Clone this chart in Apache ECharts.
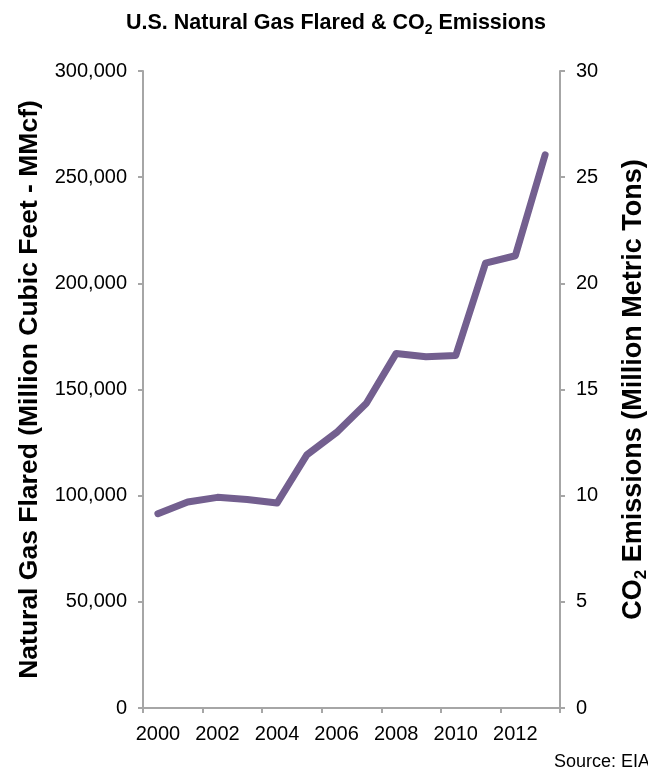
<!DOCTYPE html>
<html>
<head>
<meta charset="utf-8">
<title>U.S. Natural Gas Flared &amp; CO2 Emissions</title>
<script src="https://cdn.jsdelivr.net/npm/echarts@6/dist/echarts.min.js"></script>
<style>
  html, body { margin: 0; padding: 0; background: #ffffff; overflow: hidden; }
  #chart { width: 648px; height: 771px; }
</style>
</head>
<body>
<div id="chart"></div>
<script>
// Annual volumes of natural gas vented and flared in the U.S. (MMcf)
const years = ['2000', '2001', '2002', '2003', '2004', '2005', '2006',
               '2007', '2008', '2009', '2010', '2011', '2012', '2013'];
const gasFlared = [91500, 97000, 99200, 98200, 96500, 119200, 129800,
                   143500, 167000, 165400, 166000, 209500, 213000, 260500];

// Axis scales
const leftAxisMax = 300000;
const leftAxisStep = 50000;
const rightAxisMax = 30;
const rightAxisStep = 5;

const FONT = '"Liberation Sans", Arial, Helvetica, sans-serif';
const AXIS_GRAY = '#a6a6a6';
const LINE_PURPLE = '#735f8f';

const chart = echarts.init(document.getElementById('chart'), null, { renderer: 'canvas' });

const axisLineStyle = { show: true, lineStyle: { color: AXIS_GRAY, width: 2 } };
const axisTickStyle = { show: true, inside: false, length: 5, lineStyle: { color: AXIS_GRAY, width: 2 } };

// Subscript "2" used in CO2 labels
const subStyle = (size, pad) => ({
  fontFamily: FONT,
  fontSize: size,
  fontWeight: 'bold',
  color: '#000000',
  lineHeight: size,
  padding: [pad, 0, 0, 0],
  verticalAlign: 'bottom'
});

chart.setOption({
  backgroundColor: '#ffffff',
  animation: false,
  title: {
    text: 'U.S. Natural Gas Flared & CO{sub|2} Emissions',
    left: 331,
    top: 4,
    textAlign: 'center',
    textStyle: {
      fontFamily: FONT,
      fontSize: 21.5,
      fontWeight: 'bold',
      color: '#000000',
      lineHeight: 28,
      rich: { sub: subStyle(14, 14) }
    }
  },
  grid: {
    left: 143, right: 88, top: 71, bottom: 63,
    containLabel: false,
    outerBoundsMode: 'none'
  },
  xAxis: {
    type: 'category',
    data: years,
    boundaryGap: true,
    axisLine: axisLineStyle,
    axisTick: Object.assign({ interval: 1 }, axisTickStyle),
    axisLabel: {
      interval: 1,
      margin: 16,
      fontFamily: FONT,
      fontSize: 20,
      color: '#000000'
    },
    splitLine: { show: false }
  },
  yAxis: [
    {
      type: 'value',
      position: 'left',
      min: 0,
      max: leftAxisMax,
      interval: leftAxisStep,
      name: 'Natural Gas Flared (Million Cubic Feet - MMcf)',
      nameLocation: 'middle',
      nameRotate: 90,
      nameGap: 100,
      nameTextStyle: { fontFamily: FONT, fontSize: 26.5, fontWeight: 'bold', color: '#000000' },
      axisLine: axisLineStyle,
      axisTick: axisTickStyle,
      axisLabel: {
        margin: 16,
        fontFamily: FONT,
        fontSize: 20,
        color: '#000000',
        formatter: v => v.toLocaleString('en-US')
      },
      splitLine: { show: false }
    },
    {
      type: 'value',
      position: 'right',
      min: 0,
      max: rightAxisMax,
      interval: rightAxisStep,
      name: 'CO{sub|2} Emissions (Million Metric Tons)',
      nameLocation: 'middle',
      nameRotate: 90,
      nameGap: 58,
      nameTextStyle: {
        fontFamily: FONT, fontSize: 27, fontWeight: 'bold', color: '#000000',
        lineHeight: 32,
        rich: { sub: subStyle(17, 16) }
      },
      axisLine: axisLineStyle,
      axisTick: axisTickStyle,
      axisLabel: { margin: 16, fontFamily: FONT, fontSize: 20, color: '#000000' },
      splitLine: { show: false }
    }
  ],
  series: [
    {
      name: 'Natural Gas Flared',
      type: 'line',
      yAxisIndex: 0,
      data: gasFlared,
      symbol: 'none',
      smooth: false,
      lineStyle: { color: LINE_PURPLE, width: 7, cap: 'round', join: 'round' }
    }
  ],
  graphic: [
    {
      type: 'text',
      left: 554,
      top: 753,
      style: { text: 'Source: EIA', fontFamily: FONT, fontSize: 18, fill: '#000000' }
    }
  ]
});
</script>
</body>
</html>
